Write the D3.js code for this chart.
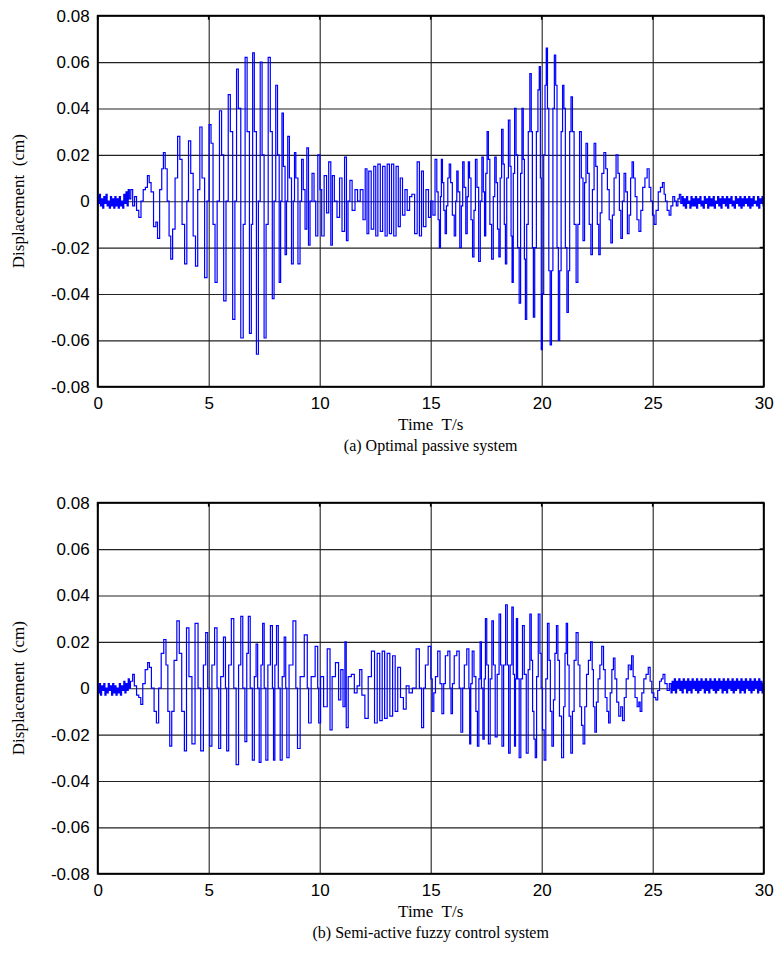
<!DOCTYPE html>
<html>
<head>
<meta charset="utf-8">
<script src="https://cdn.jsdelivr.net/npm/d3@7"></script>
<style>
  body { margin: 0; background: #fff; }
  svg { display: block; }
</style>
</head>
<body>
<div class="chart"></div>
<script>
// tick labels and titles
var xTicks = [0, 5, 10, 15, 20, 25, 30];
var yTicks = [-0.08, -0.06, -0.04, -0.02, 0, 0.02, 0.04, 0.06, 0.08];
var xLabel = "Time  T/s";
var yLabel = "Displacement  (cm)";
var captions = ["(a) Optimal passive system", "(b) Semi-active fuzzy control system"];

// sample interval of the low level noise at both ends of each record (s)
var sampleStep = 0.05;

// (a) optimal passive system
var headA = [0.002, -0.001, 0.003, -0.002, 0.001, -0.003, 0.002, -0.001, 0.003, -0.002,
  0.000, -0.003, 0.002, -0.002, 0.001, -0.003, 0.002, -0.002, 0.001, -0.003,
  0.002, -0.002, 0.000, -0.003, 0.003, -0.001, 0.004, -0.002, 0.005, 0.001];
var waveA = [[1.53,0.005],[1.62,-0.002],[1.70,0.002],[1.80,-0.004],[1.90,-0.007],[2.00,0.000],[2.10,0.005],[2.20,0.006],
  [2.28,0.011],[2.36,0.008],[2.45,0.004],[2.58,-0.011],[2.66,-0.009],[2.73,-0.016],[2.85,0.005],[2.92,0.014],
  [3.00,0.021],[3.08,0.014],[3.18,0.000],[3.25,-0.015],[3.33,-0.025],[3.42,-0.012],[3.55,0.010],[3.65,0.028],
  [3.75,0.018],[3.85,-0.010],[3.98,-0.027],[4.05,0.000],[4.13,0.026],[4.25,0.012],[4.35,-0.015],[4.46,-0.028],
  [4.55,0.005],[4.65,0.032],[4.75,0.010],[4.88,-0.033],[4.97,0.000],[5.06,0.033],[5.15,0.025],[5.24,-0.010],[5.33,-0.035],
  [5.43,0.000],[5.54,0.039],[5.62,0.020],[5.73,-0.043],[5.83,0.000],[5.93,0.046],[6.02,0.030],[6.14,-0.051],
  [6.22,0.000],[6.29,0.057],[6.38,0.040],[6.51,-0.059],[6.60,-0.010],[6.68,0.062],[6.78,0.030],[6.89,-0.057],
  [6.95,-0.010],[7.01,0.064],[7.10,0.030],[7.20,-0.066],[7.28,0.000],[7.36,0.060],[7.45,0.020],[7.54,-0.059],
  [7.63,-0.010],[7.73,0.062],[7.82,0.030],[7.91,-0.042],[7.98,0.000],[8.06,0.050],[8.14,0.020],[8.21,-0.035],
  [8.27,0.000],[8.33,0.038],[8.40,0.015],[8.48,-0.023],[8.53,0.000],[8.59,0.028],[8.68,0.010],[8.78,-0.027],
  [8.84,0.000],[8.89,0.021],[8.96,0.010],[9.08,-0.027],[9.15,0.000],[9.22,0.018],[9.30,0.005],[9.38,-0.012],
  [9.46,0.023],[9.53,-0.019],[9.60,0.000],[9.71,0.012],[9.78,0.000],[9.86,-0.015],[9.97,0.020],[10.05,0.005],
  [10.13,-0.015],[10.27,0.011],[10.35,-0.005],[10.46,0.017],[10.54,-0.019],[10.60,0.011],[10.72,0.000],[10.84,-0.007],
  [10.95,0.010],[11.06,-0.013],[11.18,0.019],[11.23,-0.017],[11.32,0.000],[11.40,0.009],[11.52,-0.004],[11.66,0.005],
  [11.75,0.000],[11.90,0.005],[12.00,-0.008],[12.10,0.014],[12.16,-0.014],[12.26,0.013],[12.38,-0.012],[12.49,0.015],
  [12.56,-0.015],[12.68,0.016],[12.78,-0.013],[12.89,0.015],[13.00,-0.015],[13.08,0.016],[13.20,-0.014],[13.27,0.016],
  [13.40,-0.015],[13.48,0.015],[13.60,-0.011],[13.66,0.010],[13.80,-0.006],[13.88,0.005],[14.00,-0.004],[14.10,0.002],
  [14.20,0.003],[14.35,-0.014],[14.43,0.017],[14.55,-0.015],[14.62,0.013],[14.72,-0.011],[14.85,0.005],[14.95,-0.007],
  [15.05,0.000],[15.15,-0.006],[15.24,0.018],[15.31,0.004],[15.36,-0.008],[15.42,-0.020],[15.46,0.002],[15.50,0.018],
  [15.56,0.008],[15.62,-0.004],[15.68,-0.014],[15.74,-0.002],[15.80,0.010],[15.87,0.016],[15.93,0.008],[16.02,-0.006],
  [16.10,-0.015],[16.15,0.000],[16.20,0.013],[16.27,0.004],[16.35,-0.020],[16.41,-0.002],[16.47,0.017],[16.54,0.006],
  [16.62,-0.014],[16.67,0.002],[16.72,0.017],[16.78,0.010],[16.85,-0.008],[16.92,-0.024],[16.98,-0.004],[17.05,0.018],
  [17.12,0.006],[17.20,-0.026],[17.27,0.000],[17.34,0.019],[17.40,0.004],[17.45,-0.015],[17.51,0.012],[17.57,0.030],
  [17.63,0.018],[17.70,-0.010],[17.79,-0.025],[17.85,0.002],[17.92,0.019],[17.98,0.008],[18.04,-0.012],[18.10,-0.024],
  [18.16,0.010],[18.23,0.031],[18.29,0.016],[18.34,-0.010],[18.39,-0.027],[18.46,0.010],[18.54,0.035],[18.60,0.015],
  [18.64,-0.015],[18.69,-0.035],[18.75,0.012],[18.81,0.040],[18.88,0.020],[18.95,-0.020],[19.02,-0.044],[19.08,0.012],
  [19.14,0.040],[19.20,0.018],[19.24,-0.025],[19.29,-0.051],[19.36,-0.010],[19.43,0.030],[19.50,0.055],[19.56,0.030],
  [19.60,-0.020],[19.65,-0.050],[19.72,-0.020],[19.80,0.030],[19.86,0.048],[19.92,0.058],[19.96,0.010],[20.00,-0.064],
  [20.06,-0.040],[20.12,0.020],[20.18,0.050],[20.23,0.066],[20.29,0.040],[20.35,-0.030],[20.41,-0.062],[20.47,-0.030],
  [20.54,0.040],[20.60,0.063],[20.66,0.050],[20.72,-0.020],[20.78,-0.060],[20.84,-0.030],[20.91,0.030],[20.97,0.050],
  [21.03,0.040],[21.10,-0.020],[21.17,-0.048],[21.23,-0.030],[21.29,0.030],[21.35,0.045],[21.42,0.030],[21.50,-0.010],
  [21.60,-0.035],[21.66,-0.010],[21.75,0.030],[21.82,0.010],[21.90,-0.017],[21.96,0.008],[22.03,0.025],[22.10,0.012],
  [22.18,-0.010],[22.25,-0.023],[22.32,0.005],[22.40,0.025],[22.47,0.015],[22.54,-0.010],[22.60,-0.023],[22.67,-0.005],
  [22.75,0.012],[22.85,0.021],[22.92,0.014],[23.00,0.005],[23.08,-0.008],[23.15,-0.018],[23.22,-0.006],[23.30,0.010],
  [23.40,0.020],[23.47,0.012],[23.53,-0.004],[23.60,-0.016],[23.67,0.000],[23.75,0.012],[23.82,0.004],[23.90,-0.014],
  [23.97,-0.006],[24.04,0.010],[24.10,0.017],[24.17,0.010],[24.25,0.002],[24.33,-0.008],[24.43,-0.013],[24.50,-0.004],
  [24.60,0.006],[24.70,0.010],[24.80,0.014],[24.88,0.006],[24.95,0.000],[25.03,-0.006],[25.10,-0.010],[25.20,-0.004],
  [25.30,0.004],[25.40,0.006],[25.48,0.008],[25.55,0.003],[25.60,0.000],[25.70,-0.004],[25.78,-0.006],[25.86,-0.002],
  [25.95,0.002],[26.03,0.000],[26.10,-0.002],[26.17,0.001],[26.23,0.003]];
var tailStartA = 26.30;
var tailA = [-0.001, 0.002, -0.002, 0.001, -0.003, 0.002, -0.001, 0.000, -0.003, 0.002,
  -0.002, 0.001, -0.002, 0.002, -0.003, 0.001, -0.001, 0.002, -0.002, 0.000,
  -0.003, 0.002, -0.001, 0.001, -0.003, 0.002, -0.002, 0.001, -0.002, 0.002,
  -0.003, 0.000, -0.001, 0.002, -0.002, 0.001, -0.003, 0.002, -0.001, 0.001,
  -0.002, 0.002, -0.003, 0.001, -0.001, 0.002, -0.002, 0.000, -0.003, 0.002,
  -0.001, 0.001, -0.002, 0.002, -0.003, 0.001, -0.002, 0.002, -0.001, 0.001,
  -0.002, 0.002, -0.003, 0.001, -0.002, 0.002, -0.001, 0.000, -0.002, 0.002,
  -0.003, 0.001, -0.001, 0.002, -0.002];

// (b) semi-active fuzzy control system
var headB = [0.001, -0.002, 0.002, -0.003, 0.001, -0.001, 0.002, -0.003, 0.000, -0.002,
  0.002, -0.001, 0.001, -0.003, 0.002, -0.002, 0.001, -0.003, 0.000, -0.002,
  0.002, -0.003, 0.001, -0.001, 0.003, -0.002, 0.002, -0.001, 0.004, 0.000,
  0.003];
var waveB = [[1.55,0.003],[1.60,0.006],[1.70,0.001],[1.80,-0.003],[1.90,-0.004],[1.98,-0.007],[2.08,0.002],[2.20,0.008],
  [2.30,0.011],[2.36,0.009],[2.48,0.000],[2.60,-0.010],[2.69,-0.015],[2.80,0.000],[2.92,0.015],[3.03,0.021],
  [3.12,0.010],[3.20,-0.010],[3.29,-0.025],[3.38,-0.010],[3.50,0.012],[3.63,0.029],[3.72,0.015],[3.85,-0.010],
  [3.96,-0.027],[4.04,0.026],[4.18,0.005],[4.31,-0.024],[4.46,0.028],[4.58,0.000],[4.70,-0.027],[4.82,0.010],
  [4.91,0.024],[5.00,0.000],[5.09,-0.025],[5.20,0.010],[5.33,0.026],[5.42,0.000],[5.48,-0.026],[5.60,0.005],
  [5.73,0.022],[5.78,0.000],[5.84,-0.027],[5.96,0.010],[6.08,0.030],[6.18,0.000],[6.29,-0.033],[6.40,0.010],
  [6.49,0.031],[6.58,0.000],[6.68,-0.023],[6.75,0.015],[6.82,0.031],[6.92,0.000],[7.01,-0.031],[7.10,0.005],
  [7.17,0.019],[7.24,0.000],[7.31,-0.032],[7.40,0.010],[7.46,0.028],[7.54,0.000],[7.61,-0.031],[7.72,0.010],
  [7.84,0.027],[7.90,0.000],[7.94,-0.031],[8.02,0.010],[8.09,0.027],[8.18,0.000],[8.26,-0.031],[8.36,0.005],
  [8.44,0.022],[8.50,0.000],[8.54,-0.030],[8.70,0.010],[8.89,0.029],[8.96,0.000],[9.04,-0.026],[9.20,0.005],
  [9.41,0.023],[9.47,0.000],[9.53,-0.015],[9.70,0.005],[9.89,0.018],[9.93,0.000],[9.98,-0.015],[10.10,0.005],
  [10.25,-0.008],[10.43,0.017],[10.50,-0.018],[10.62,0.005],[10.80,0.011],[10.90,-0.005],[11.00,0.008],[11.10,-0.008],
  [11.17,0.020],[11.22,-0.017],[11.35,0.005],[11.50,0.006],[11.62,-0.002],[11.75,0.001],[11.85,0.008],[11.95,-0.003],
  [12.12,-0.013],[12.25,0.005],[12.41,0.016],[12.53,-0.015],[12.65,0.015],[12.76,-0.014],[12.87,0.016],[12.98,-0.013],
  [13.10,0.015],[13.22,-0.012],[13.35,0.014],[13.45,-0.010],[13.58,0.009],[13.70,-0.004],[13.84,-0.009],[13.95,0.001],
  [14.10,-0.002],[14.25,0.000],[14.44,0.017],[14.54,0.000],[14.64,-0.017],[14.72,0.000],[14.80,0.010],[14.97,0.018],
  [15.04,0.004],[15.10,-0.010],[15.18,-0.002],[15.25,0.005],[15.38,0.016],[15.46,0.002],[15.55,-0.011],[15.62,0.002],
  [15.70,0.014],[15.84,0.016],[15.89,0.000],[15.94,-0.011],[16.02,0.002],[16.10,0.014],[16.25,0.016],[16.32,0.000],
  [16.40,-0.019],[16.48,0.000],[16.55,0.010],[16.70,0.017],[16.74,0.000],[16.77,-0.024],[16.84,0.002],[16.90,0.016],
  [17.00,0.005],[17.07,-0.010],[17.14,-0.025],[17.20,0.004],[17.25,0.020],[17.32,0.000],[17.38,-0.022],[17.44,0.004],
  [17.49,0.030],[17.56,0.010],[17.64,-0.024],[17.72,0.004],[17.79,0.029],[17.86,0.010],[17.95,-0.021],[18.04,0.006],
  [18.12,0.032],[18.18,0.010],[18.24,-0.025],[18.33,0.010],[18.42,0.036],[18.48,0.010],[18.54,-0.028],[18.62,0.010],
  [18.69,0.035],[18.75,0.006],[18.80,-0.025],[18.84,0.004],[18.88,0.030],[18.95,0.004],[19.02,-0.030],[19.10,0.004],
  [19.17,0.027],[19.26,0.006],[19.35,-0.028],[19.43,0.008],[19.50,0.032],[19.56,0.012],[19.62,-0.010],[19.68,-0.022],
  [19.74,-0.030],[19.80,0.005],[19.89,0.032],[19.95,0.015],[20.00,0.000],[20.07,-0.018],[20.15,-0.031],[20.22,0.004],
  [20.30,0.028],[20.36,0.012],[20.42,-0.010],[20.50,-0.025],[20.56,-0.005],[20.63,0.015],[20.70,0.027],[20.76,0.012],
  [20.84,-0.012],[20.95,-0.030],[21.02,-0.008],[21.08,0.015],[21.13,0.028],[21.20,0.010],[21.27,-0.012],[21.35,-0.028],
  [21.42,-0.010],[21.50,0.012],[21.60,0.024],[21.68,0.010],[21.76,-0.008],[21.83,-0.016],[21.90,-0.024],[21.98,-0.008],
  [22.06,0.006],[22.15,0.012],[22.25,0.020],[22.30,0.008],[22.36,-0.008],[22.43,-0.019],[22.50,-0.006],[22.58,0.004],
  [22.66,0.010],[22.75,0.018],[22.82,0.008],[22.90,-0.004],[22.98,-0.010],[23.05,-0.015],[23.12,-0.002],[23.20,0.008],
  [23.26,0.013],[23.34,0.004],[23.42,-0.006],[23.52,-0.012],[23.60,-0.008],[23.68,-0.014],[23.76,-0.004],[23.85,0.004],
  [23.95,0.010],[24.02,0.008],[24.08,0.014],[24.16,0.005],[24.25,-0.004],[24.35,-0.008],[24.40,-0.006],[24.47,-0.010],
  [24.55,-0.002],[24.65,0.004],[24.75,0.006],[24.85,0.009],[24.92,0.003],[25.00,-0.002],[25.10,-0.004],[25.18,-0.005],
  [25.27,-0.001],[25.35,0.003],[25.43,0.004],[25.50,0.006],[25.60,0.002],[25.70,-0.001]];
var tailStartB = 25.80;
var tailB = [0.002, -0.002, 0.003, -0.001, 0.004, -0.002, 0.003, 0.000, 0.004, -0.001,
  0.003, -0.002, 0.004, 0.000, 0.003, -0.002, 0.004, -0.001, 0.003, -0.002,
  0.004, 0.000, 0.003, -0.001, 0.004, -0.002, 0.003, -0.001, 0.004, 0.000,
  0.003, -0.002, 0.004, -0.001, 0.003, -0.002, 0.004, 0.000, 0.003, -0.001,
  0.004, -0.002, 0.003, -0.001, 0.004, 0.000, 0.003, -0.002, 0.004, -0.001,
  0.003, -0.002, 0.004, 0.000, 0.003, -0.001, 0.004, -0.002, 0.003, -0.001,
  0.004, 0.000, 0.003, -0.002, 0.004, -0.001, 0.003, -0.002, 0.004, 0.000,
  0.003, -0.001, 0.004, -0.002, 0.003, -0.001, 0.004, 0.000, 0.003, -0.002,
  0.004, -0.001, 0.003, -0.002, 0.002];

var svgWidth = 777;
var svgHeight = 954;
var plotLeft = 97.7;
var plotWidth = 666;
var plotHeight = 371;
var plotTops = [15.7, 502.7];

function buildSeries(head, wave, tailStart, tail) {
  var pts = head.map(function(v, i) { return [i * sampleStep, v]; });
  pts = pts.concat(wave);
  tail.forEach(function(v, i) { pts.push([tailStart + i * sampleStep, v]); });
  return pts;
}

var panels = [
  { data: buildSeries(headA, waveA, tailStartA, tailA), caption: captions[0] },
  { data: buildSeries(headB, waveB, tailStartB, tailB), caption: captions[1] }
];

var svg = d3.select(".chart")
  .append("svg")
  .attr("width", svgWidth)
  .attr("height", svgHeight);

var xScale = d3.scaleLinear().domain([0, 30]).range([0, plotWidth]);
var yScale = d3.scaleLinear().domain([-0.08, 0.08]).range([plotHeight, 0]);

var tickFont = "'Liberation Sans', Arial, sans-serif";
var serifFont = "'Liberation Serif', 'Times New Roman', serif";

panels.forEach(function(p, k) {
  var g = svg.append("g")
    .attr("transform", `translate(${plotLeft}, ${plotTops[k]})`);

  g.append("defs").append("clipPath")
    .attr("id", "clip" + k)
    .append("rect")
    .attr("width", plotWidth)
    .attr("height", plotHeight);

  // grid + tick labels
  var xAxis = d3.axisBottom(xScale).tickValues(xTicks).tickSize(-plotHeight).tickPadding(10)
    .tickFormat(d3.format("d"));
  var yAxis = d3.axisLeft(yScale).tickValues(yTicks).tickSize(-plotWidth).tickPadding(8)
    .tickFormat(function(d) { return d === 0 ? "0" : d.toFixed(2); });

  var gx = g.append("g").attr("transform", `translate(0, ${plotHeight})`).call(xAxis);
  var gy = g.append("g").call(yAxis);

  [gx, gy].forEach(function(a) {
    a.select(".domain").remove();
    a.selectAll("line").attr("stroke", "#222").attr("stroke-width", 1.1);
    a.selectAll("text")
      .attr("fill", "#000")
      .style("font-family", tickFont)
      .style("font-size", "17px");
  });

  // small inward ticks on top and right edges
  g.selectAll(".tTop").data(xTicks).enter().append("line")
    .attr("x1", d => xScale(d)).attr("x2", d => xScale(d))
    .attr("y1", 0).attr("y2", 4)
    .attr("stroke", "#000").attr("stroke-width", 1.6);
  g.selectAll(".tRight").data(yTicks).enter().append("line")
    .attr("x1", plotWidth - 4).attr("x2", plotWidth)
    .attr("y1", d => yScale(d)).attr("y2", d => yScale(d))
    .attr("stroke", "#000").attr("stroke-width", 1.6);

  // signal (sampled record, drawn as a stepped trace)
  var line = d3.line()
    .curve(d3.curveStep)
    .x(d => xScale(d[0]))
    .y(d => yScale(d[1]));

  g.append("path")
    .datum(p.data)
    .attr("clip-path", `url(#clip${k})`)
    .attr("d", line)
    .attr("fill", "none")
    .attr("stroke", "#0000ff")
    .attr("stroke-width", 1.2);

  // frame
  g.append("rect")
    .attr("width", plotWidth)
    .attr("height", plotHeight)
    .attr("fill", "none")
    .attr("stroke", "#000")
    .attr("stroke-width", 1.8);

  // axis titles
  g.append("text")
    .attr("x", plotWidth / 2)
    .attr("y", plotHeight + 43)
    .attr("text-anchor", "middle")
    .style("white-space", "pre")
    .style("font-family", serifFont)
    .style("font-size", "17px")
    .text(xLabel);

  g.append("text")
    .attr("transform", `translate(${-plotLeft + 24}, ${plotHeight / 2}) rotate(-90)`)
    .attr("text-anchor", "middle")
    .style("white-space", "pre")
    .style("font-family", serifFont)
    .style("font-size", "17px")
    .text(yLabel);

  g.append("text")
    .attr("x", plotWidth / 2)
    .attr("y", plotHeight + 64)
    .attr("text-anchor", "middle")
    .style("font-family", serifFont)
    .style("font-size", "16px")
    .text(p.caption);
});
</script>
</body>
</html>
